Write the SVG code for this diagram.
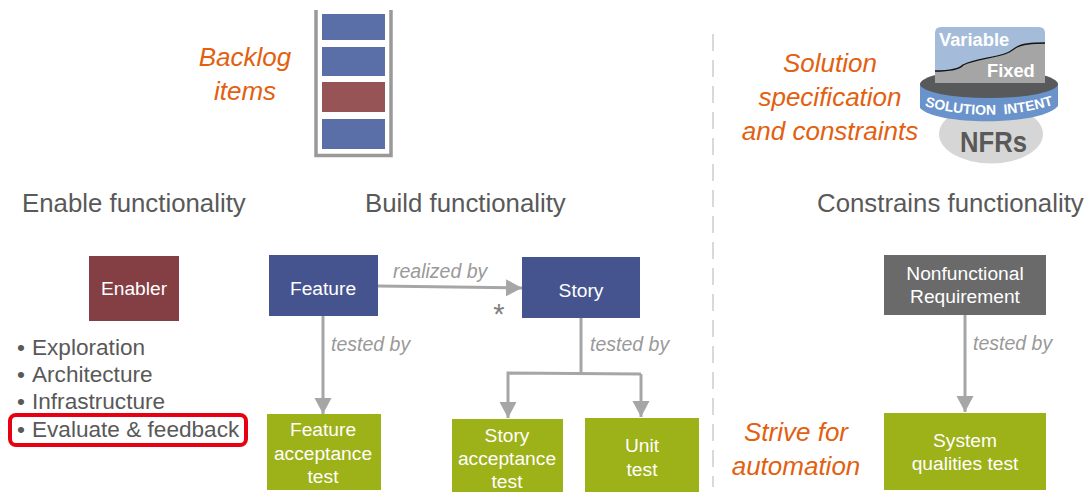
<svg xmlns="http://www.w3.org/2000/svg" width="1086" height="492" viewBox="0 0 1086 492">
<style>
text{font-family:"Liberation Sans",Arial,sans-serif}
.h{font-size:25.8px;fill:#595959}
.o{font-size:26px;font-style:italic;fill:#e2600f;text-anchor:middle}
.w{font-size:19.200px;fill:#fff;text-anchor:middle}
.e{font-size:19.500px;font-style:italic;fill:#999}
.b{font-size:22.600px;fill:#595959}
.c{fill:none;stroke:#a6a6a6;stroke-width:3}
</style>
<defs>
<marker id="a" markerUnits="userSpaceOnUse" markerWidth="17" markerHeight="18" refX="16" refY="9" orient="auto"><path d="M0 0.5L16 9L0 17.500Z" fill="#a6a6a6"/></marker>
<path id="arc" d="M925 106Q989 124 1053 105"/>
</defs>
<rect width="1086" height="492" fill="#fff"/>
<g id="backlog">
<path d="M316 10V155.500H391V10" fill="none" stroke="#999" stroke-width="3.500"/>
<rect x="322" y="14" width="63" height="26" fill="#5a6fa8"/>
<rect x="322" y="47" width="63" height="29" fill="#5a6fa8"/>
<rect x="322" y="82" width="63" height="30" fill="#975456"/>
<rect x="322" y="119" width="63" height="30" fill="#5a6fa8"/>
</g>
<g id="divider"><path d="M713 34V487" stroke="#d9d9d9" stroke-width="2" stroke-dasharray="17 9"/></g>
<g id="labels">
<text class="o" x="245" y="66">Backlog</text><text class="o" x="245" y="100">items</text>
<text class="o" x="830" y="72">Solution</text><text class="o" x="830" y="106">specification</text><text class="o" x="830" y="140">and constraints</text>
<text class="o" x="796" y="441">Strive for</text><text class="o" x="796" y="475">automation</text>
<text class="h" x="22" y="212">Enable functionality</text>
<text class="h" x="365" y="212">Build functionality</text>
<text class="h" x="817" y="212">Constrains functionality</text>
</g>
<g id="solution-intent">
<ellipse cx="991" cy="134" rx="52" ry="29.500" fill="#d6d6d6"/>
<text x="960" y="152" font-size="29" font-weight="bold" fill="#595959" textLength="67" lengthAdjust="spacingAndGlyphs">NFRs</text>
<path d="M920 84V108C936 126 1042 126 1058 106V84Z" fill="#6a93cb"/>
<ellipse cx="989" cy="84" rx="69" ry="14" fill="#58595b"/>
<path d="M935 71V33Q935 27 941 27H1039Q1045 27 1045 33V43C1030 43 1022 44 1017 47C1012 50 1010 52 1007 53C995 58 975 59 963 65Q958 71 935 71Z" fill="#a4bcd9"/>
<path d="M935 71Q958 71 963 65C975 59 995 58 1007 53C1010 52 1012 50 1017 47C1022 44 1030 43 1045 43V83H935Z" fill="#a5a5a5"/>
<path d="M935 71Q958 71 963 65C975 59 995 58 1007 53C1010 52 1012 50 1017 47C1022 44 1030 43 1045 43" fill="none" stroke="#111" stroke-width="1.300"/>
<text x="939" y="46" font-size="18.300" font-weight="bold" fill="#fff">Variable</text>
<text x="987" y="77" font-size="18.300" font-weight="bold" fill="#fff">Fixed</text>
<text font-size="14" font-weight="bold" fill="#fff" word-spacing="4" text-anchor="middle"><textPath href="#arc" startOffset="50%">SOLUTION INTENT</textPath></text>
</g>
<g id="connectors">
<path class="c" d="M378 286L522 288" marker-end="url(#a)"/>
<path class="c" d="M323 316V414" marker-end="url(#a)"/>
<path class="c" d="M581 318V373"/>
<path class="c" d="M641 374L508 373V418" marker-end="url(#a)"/>
<path class="c" d="M641 374V417" marker-end="url(#a)"/>
<path class="c" d="M965 315V412" marker-end="url(#a)"/>
<text class="e" x="393" y="278">realized by</text>
<text class="e" x="331" y="351">tested by</text>
<text class="e" x="590" y="351">tested by</text>
<text class="e" x="973" y="350">tested by</text>
<text x="499" y="324" font-size="29" fill="#7f7f7f" text-anchor="middle">*</text>
</g>
<g id="enabler"><rect x="89" y="256" width="90" height="65" fill="#843f44"/><text class="w" x="134" y="295">Enabler</text></g>
<g id="enabler-list">
<text class="b" x="17" y="355">•</text><text class="b" x="32" y="355">Exploration</text>
<text class="b" x="17" y="382">•</text><text class="b" x="32" y="382">Architecture</text>
<text class="b" x="17" y="409">•</text><text class="b" x="32" y="409">Infrastructure</text>
<text class="b" x="17" y="437">•</text><text class="b" x="32" y="437">Evaluate &amp; feedback</text>
<rect x="10" y="415" width="236" height="30" rx="6" fill="none" stroke="#e60012" stroke-width="4"/>
</g>
<g id="feature"><rect x="269" y="255" width="109" height="61" fill="#45548f"/><text class="w" x="323" y="295">Feature</text></g>
<g id="story"><rect x="522" y="257" width="118" height="61" fill="#45548f"/><text class="w" x="581" y="297">Story</text></g>
<g id="nfr"><rect x="884" y="255" width="162" height="60" fill="#6a6a6a"/><text class="w" x="965" y="280">Nonfunctional</text><text class="w" x="965" y="303">Requirement</text></g>
<g id="feature-test"><rect x="267" y="414" width="114" height="76" fill="#9db118"/><text class="w" x="323" y="436">Feature</text><text class="w" x="323" y="460">acceptance</text><text class="w" x="323" y="483">test</text></g>
<g id="story-test"><rect x="452" y="419" width="111" height="73" fill="#9db118"/><text class="w" x="507" y="442">Story</text><text class="w" x="507" y="465">acceptance</text><text class="w" x="507" y="488">test</text></g>
<g id="unit-test"><rect x="585" y="418" width="114" height="74" fill="#9db118"/><text class="w" x="642" y="452">Unit</text><text class="w" x="642" y="476">test</text></g>
<g id="system-test"><rect x="884" y="413" width="162" height="77" fill="#9db118"/><text class="w" x="965" y="447">System</text><text class="w" x="965" y="470">qualities test</text></g>
</svg>
